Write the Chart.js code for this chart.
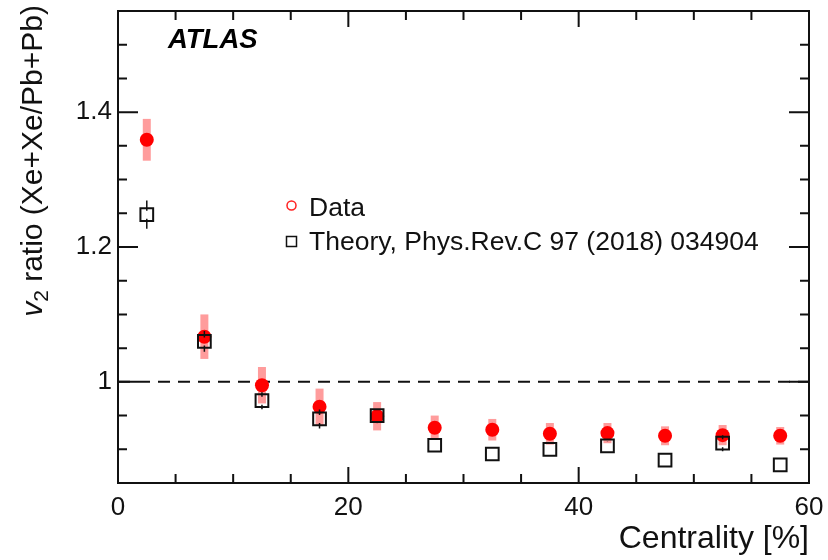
<!DOCTYPE html>
<html>
<head>
<meta charset="utf-8">
<title>v2 ratio vs centrality</title>
<script src="https://cdn.jsdelivr.net/npm/chart.js@4.4.1/dist/chart.umd.min.js"></script>
<style>
  html, body { margin: 0; padding: 0; background: #fff; }
  canvas { display: block; }
</style>
</head>
<body>
<canvas id="chart" width="828" height="560"></canvas>
<script>
// centrality bin centres [%]
const centrality = [2.5, 7.5, 12.5, 17.5, 22.5, 27.5, 32.5, 37.5, 42.5, 47.5, 52.5, 57.5];

// measured Xe+Xe / Pb+Pb v2 ratio and its systematic uncertainty
const dataRatio = [1.359, 1.067, 0.995, 0.963, 0.949, 0.932, 0.929, 0.923, 0.924, 0.920, 0.921, 0.920];
const dataSys = [0.031, 0.033, 0.027, 0.027, 0.021, 0.018, 0.016, 0.016, 0.015, 0.014, 0.015, 0.013];

// theory prediction and its uncertainty
const theoryRatio = [1.248, 1.060, 0.972, 0.945, 0.950, 0.906, 0.893, 0.900, 0.905, 0.884, 0.909, 0.877];
const theoryErr = [0.021, 0.0155, 0.0125, 0.014, 0.006, 0.006, 0.005, 0.006, 0.006, 0.005, 0.012, 0.006];

const xTicks = [0, 20, 40, 60];
const yTicks = [1, 1.2, 1.4];

const FONT = "'Liberation Sans', Arial, Helvetica, sans-serif";
const INK = "#111";

function toPoints(xs, ys) {
  let pts = [];
  for (let i = 0; i < xs.length; i++) {
    pts.push({ x: xs[i], y: ys[i] });
  }
  return pts;
}

// labels at the axis ends should not push the plot area inwards
function noEdgePadding(scale) {
  scale.paddingTop = 0;
  scale.paddingBottom = 0;
  scale.paddingLeft = 0;
  scale.paddingRight = 0;
}

// pink systematic bands behind the data, black bars on top of the theory squares
const errorBars = {
  id: "errorBars",
  beforeDatasetsDraw(chart) {
    const { ctx, scales } = chart;
    ctx.save();
    ctx.strokeStyle = "#ff9c9c";
    ctx.lineWidth = 8;
    for (let i = 0; i < centrality.length; i++) {
      let x = scales.x.getPixelForValue(centrality[i]);
      ctx.beginPath();
      ctx.moveTo(x, scales.y.getPixelForValue(dataRatio[i] + dataSys[i]));
      ctx.lineTo(x, scales.y.getPixelForValue(dataRatio[i] - dataSys[i]));
      ctx.stroke();
    }
    ctx.restore();
  },
  afterDatasetsDraw(chart) {
    const { ctx, scales } = chart;
    ctx.save();
    ctx.strokeStyle = INK;
    ctx.lineWidth = 1.5;
    for (let i = 0; i < centrality.length; i++) {
      let x = scales.x.getPixelForValue(centrality[i]);
      let yc = scales.y.getPixelForValue(theoryRatio[i]);
      let yHi = scales.y.getPixelForValue(theoryRatio[i] + theoryErr[i]);
      let yLo = scales.y.getPixelForValue(theoryRatio[i] - theoryErr[i]);
      // leave a small gap round the marker centre
      if (yc - yHi > 4) {
        ctx.beginPath();
        ctx.moveTo(x, yHi);
        ctx.lineTo(x, yc - 4);
        ctx.moveTo(x, yc + 4);
        ctx.lineTo(x, yLo);
        ctx.stroke();
      }
    }
    ctx.restore();
  },
};

// frame, inward ticks on all four sides, unity line, y title, legend and label
const decorations = {
  id: "decorations",
  beforeDatasetsDraw(chart) {
    const { ctx, chartArea, scales } = chart;
    const y1 = scales.y.getPixelForValue(1);
    ctx.save();
    ctx.strokeStyle = INK;
    ctx.lineWidth = 2;
    ctx.setLineDash([12, 8]);
    ctx.beginPath();
    ctx.moveTo(chartArea.left, y1);
    ctx.lineTo(chartArea.right, y1);
    ctx.stroke();
    ctx.restore();
  },
  afterDraw(chart) {
    const { ctx, chartArea, scales } = chart;
    const { left, right, top, bottom } = chartArea;
    ctx.save();
    ctx.strokeStyle = INK;
    ctx.lineWidth = 2;
    ctx.strokeRect(left, top, right - left, bottom - top);

    // x ticks every 5, long ones every 20
    ctx.beginPath();
    for (let v = scales.x.min; v <= scales.x.max + 1e-9; v += 5) {
      let x = scales.x.getPixelForValue(v);
      let len = Math.abs(v % 20) < 1e-9 ? 16 : 9;
      ctx.moveTo(x, bottom);
      ctx.lineTo(x, bottom - len);
      ctx.moveTo(x, top);
      ctx.lineTo(x, top + len);
    }
    // y ticks every 0.05, long ones every 0.2
    for (let k = 0; k <= 14; k++) {
      let v = 0.85 + k * 0.05;
      let y = scales.y.getPixelForValue(v);
      let isMajor = Math.abs(((v + 1e-6) % 0.2)) < 1e-4;
      let len = isMajor ? 20 : 9;
      ctx.moveTo(left, y);
      ctx.lineTo(left + len, y);
      ctx.moveTo(right, y);
      ctx.lineTo(right - len, y);
    }
    ctx.stroke();

    // y title with italic v and subscript 2
    ctx.translate(42, 5);
    ctx.rotate(-Math.PI / 2);
    ctx.fillStyle = INK;
    ctx.textBaseline = "alphabetic";
    ctx.textAlign = "left";
    const vFont = "italic 30px " + FONT;
    const subFont = "21px " + FONT;
    const mainFont = "30px " + FONT;
    const mainText = " ratio (Xe+Xe/Pb+Pb)";
    ctx.font = vFont;
    let wV = ctx.measureText("v").width;
    ctx.font = subFont;
    let wSub = ctx.measureText("2").width;
    ctx.font = mainFont;
    let wMain = ctx.measureText(mainText).width;
    let x0 = -(wV + wSub + wMain);
    ctx.font = vFont;
    ctx.fillText("v", x0, 0);
    ctx.font = subFont;
    ctx.fillText("2", x0 + wV, 6);
    ctx.font = mainFont;
    ctx.fillText(mainText, x0 + wV + wSub, 0);
    ctx.restore();

    // experiment label
    ctx.save();
    ctx.fillStyle = "#000";
    ctx.font = "italic bold 27.5px " + FONT;
    ctx.textBaseline = "alphabetic";
    ctx.fillText("ATLAS", 168, 48);

    // legend
    const ds = chart.data.datasets;
    ctx.font = "26.5px " + FONT;
    ctx.fillStyle = INK;
    ctx.fillText(ds[0].label, 309, 216);
    ctx.fillText(ds[1].label, 309, 249.5);
    ctx.lineWidth = 1.5;
    ctx.strokeStyle = "#ff2020";
    ctx.beginPath();
    ctx.arc(291.5, 205.5, 4.5, 0, Math.PI * 2);
    ctx.stroke();
    ctx.strokeStyle = INK;
    ctx.strokeRect(286.5, 236.5, 10, 10);
    ctx.restore();
  },
};

const ctx = document.getElementById("chart");
const myChart = new Chart(ctx, {
  type: "scatter",
  data: {
    datasets: [
      {
        label: "Data",
        data: toPoints(centrality, dataRatio),
        pointStyle: "circle",
        pointRadius: 7,
        pointBackgroundColor: "#ff0000",
        pointBorderColor: "#ff0000",
        pointBorderWidth: 0,
        order: 2,
      },
      {
        label: "Theory, Phys.Rev.C 97 (2018) 034904",
        data: toPoints(centrality, theoryRatio),
        pointStyle: "rect",
        pointRadius: 9,
        pointBackgroundColor: "rgba(0,0,0,0)",
        pointBorderColor: INK,
        pointBorderWidth: 2,
        order: 1,
      },
    ],
  },
  options: {
    responsive: false,
    animation: false,
    devicePixelRatio: 1,
    layout: {
      padding: { top: 7, right: 19, left: 0, bottom: 0 },
    },
    scales: {
      x: {
        type: "linear",
        min: 0,
        max: 60,
        grid: { display: false, drawTicks: false },
        border: { display: false },
        afterBuildTicks: (scale) => {
          scale.ticks = xTicks.map((v) => ({ value: v }));
        },
        afterFit: (scale) => {
          scale.height = 77;
          noEdgePadding(scale);
        },
        ticks: {
          color: INK,
          padding: 9,
          maxRotation: 0,
          font: { family: FONT, size: 26 },
        },
        title: {
          display: true,
          text: "Centrality [%]",
          align: "end",
          color: INK,
          padding: { top: 0, bottom: 2 },
          font: { family: FONT, size: 32 },
        },
      },
      y: {
        type: "linear",
        min: 0.85,
        max: 1.55,
        grid: { display: false, drawTicks: false },
        border: { display: false },
        afterBuildTicks: (scale) => {
          scale.ticks = yTicks.map((v) => ({ value: v }));
        },
        afterFit: (scale) => {
          scale.width = 118;
          noEdgePadding(scale);
        },
        ticks: {
          color: INK,
          padding: 6,
          font: { family: FONT, size: 26 },
          callback: (v) => (v === 1 ? "1" : v.toFixed(1)),
        },
      },
    },
    plugins: {
      legend: { display: false },
      tooltip: { enabled: false },
    },
  },
  plugins: [errorBars, decorations],
});
</script>
</body>
</html>
